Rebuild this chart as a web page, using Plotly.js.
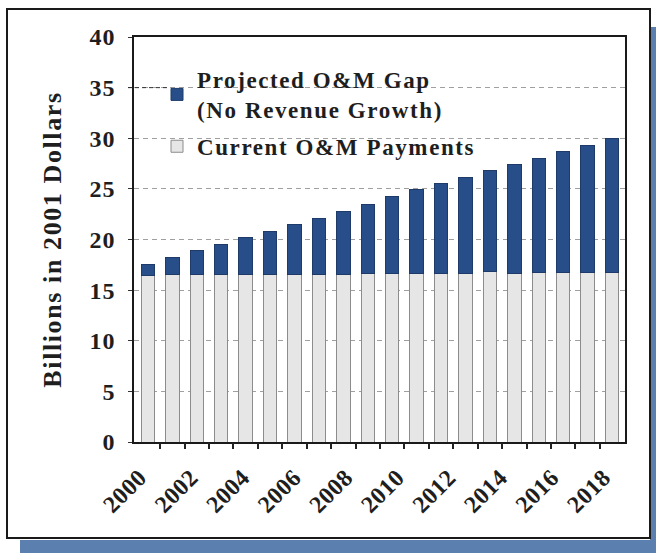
<!DOCTYPE html>
<html>
<head>
<meta charset="utf-8">
<script src="https://cdn.plot.ly/plotly-3.0.1.min.js"></script>
<style>
  html, body { margin: 0; padding: 0; background: #ffffff; }
  #chart { width: 656px; height: 553px; }
  text.legendtext { letter-spacing: 1.6px; }
  text.ytitle { letter-spacing: 1.6px; }
  g.ytick text { letter-spacing: 0.8px; }
  g.xtick text { letter-spacing: 0.4px; }
</style>
</head>
<body>
<div id="chart"></div>
<script>
// ---- data ----
const years = [2000, 2001, 2002, 2003, 2004, 2005, 2006, 2007, 2008, 2009,
               2010, 2011, 2012, 2013, 2014, 2015, 2016, 2017, 2018, 2019];
const currentPayments = [16.4, 16.5, 16.5, 16.5, 16.5, 16.5, 16.5, 16.5, 16.5, 16.6,
                         16.6, 16.6, 16.6, 16.6, 16.8, 16.6, 16.7, 16.7, 16.7, 16.7];
const projectedGap = [1.1, 1.7, 2.4, 3.0, 3.7, 4.3, 5.0, 5.6, 6.3, 6.9,
                      7.6, 8.3, 8.9, 9.5, 10.0, 10.8, 11.3, 12.0, 12.6, 13.3];
const xTickLabels = ["2000", "2002", "2004", "2006", "2008", "2010", "2012", "2014", "2016", "2018"];
const yTickValues = [0, 5, 10, 15, 20, 25, 30, 35, 40];
const seriesNames = ["Current O&M Payments", "Projected O&M Gap<br>(No Revenue Growth)"];
const yTitle = "Billions in 2001 Dollars";

// ---- layout helpers (pixel -> paper) ----
const W = 656, H = 553;
const M = { l: 134, r: 31, t: 37, b: 111 };
const PW = W - M.l - M.r, PH = H - M.t - M.b;
const xp = px => (px - M.l) / PW;
const yp = py => (H - M.b - py) / PH;

const first = years[0], last = years[years.length - 1];
const xRange = [first - 0.573, last + 0.532];
// labels are spread evenly from the first to the last bar, as in the reference
const tickPos = xTickLabels.map((_, i) => first - 0.35 + i * (last - first) / (xTickLabels.length - 1));
const betweenBars = years.slice(0, -1).map(y => y + 0.5);

const FONT = "Liberation Serif, Times New Roman, serif";
const INK = "#1e1e1e";

const traces = [
  {
    type: "bar", name: seriesNames[0], x: years, y: currentPayments,
    legendgroup: "current", legendrank: 2,
    marker: { color: "#e6e6e6", line: { color: "#8c8c8c", width: 1 } },
    hoverinfo: "skip"
  },
  {
    type: "bar", name: seriesNames[1], x: years, y: projectedGap,
    legendgroup: "gap", legendrank: 1,
    marker: { color: "#284e8a", line: { color: "#1d3a68", width: 1 } },
    hoverinfo: "skip"
  },
  // carrier for the secondary x axis that draws the small ticks between bars
  {
    type: "scatter", mode: "markers", x: years, y: currentPayments,
    xaxis: "x2", yaxis: "y", showlegend: false, hoverinfo: "skip",
    marker: { opacity: 0, size: 1 }
  }
];

const layout = {
  width: W, height: H,
  margin: M,
  paper_bgcolor: "#ffffff",
  plot_bgcolor: "rgba(0,0,0,0)",
  barmode: "stack",
  bargap: 0.45,
  font: { family: FONT, color: INK, size: 22, weight: 700 },
  showlegend: true,
  legend: {
    x: xp(157), y: yp(58), xanchor: "left", yanchor: "top",
    bgcolor: "rgba(0,0,0,0)", borderwidth: 0,
    font: { family: FONT, size: 23, color: INK, weight: 700 },
    traceorder: "grouped",
    tracegroupgap: 4, itemwidth: 30
  },
  xaxis: {
    range: xRange,
    tickmode: "array", tickvals: tickPos, ticktext: xTickLabels,
    tickangle: -45, ticks: "", ticklabelstandoff: 10,
    tickfont: { family: FONT, size: 24, color: INK, weight: 700 },
    showgrid: false, zeroline: false,
    showline: true, mirror: true, linecolor: "#1a1a1a", linewidth: 2,
    fixedrange: true
  },
  xaxis2: {
    overlaying: "x", anchor: "y", side: "bottom",
    range: xRange,
    tickmode: "array", tickvals: betweenBars,
    ticks: "outside", ticklen: 6, tickwidth: 2, tickcolor: "#222",
    showticklabels: false, showgrid: false, zeroline: false, showline: false,
    fixedrange: true
  },
  yaxis: {
    range: [0, 40],
    tickmode: "array", tickvals: yTickValues,
    ticks: "outside", ticklen: 4, tickcolor: "#333", tickwidth: 1,
    ticklabelstandoff: 8,
    tickfont: { family: FONT, size: 24, color: INK, weight: 700 },
    showgrid: true, gridcolor: "#a0a0a0", gridwidth: 1, griddash: "5px,4px",
    zeroline: false,
    showline: true, mirror: true, linecolor: "#1a1a1a", linewidth: 2,
    title: { text: yTitle, standoff: 20, font: { family: FONT, size: 26, color: INK, weight: 700 } },
    fixedrange: true
  },
  shapes: [
    // blue shadow (right and bottom)
    { type: "rect", xref: "paper", yref: "paper", layer: "below",
      x0: xp(650), x1: xp(656), y0: yp(553), y1: yp(27),
      fillcolor: "#5b7fae", line: { width: 0 } },
    { type: "rect", xref: "paper", yref: "paper", layer: "below",
      x0: xp(20), x1: xp(656), y0: yp(553), y1: yp(540),
      fillcolor: "#5b7fae", line: { width: 0 } },
    // outer framed panel
    { type: "rect", xref: "paper", yref: "paper", layer: "below",
      x0: xp(7), x1: xp(650), y0: yp(538), y1: yp(9),
      fillcolor: "#ffffff", line: { color: "#1a1a1a", width: 2 } },
    // darker dashed stretch of the 35 gridline near the axis
    { type: "line", xref: "paper", yref: "y", layer: "above",
      x0: xp(128), x1: xp(170), y0: 35, y1: 35,
      line: { color: "#333", width: 1, dash: "4px,3px" } }
  ]
};

Plotly.newPlot("chart", traces, layout, { staticPlot: true, displayModeBar: false });
</script>
</body>
</html>
